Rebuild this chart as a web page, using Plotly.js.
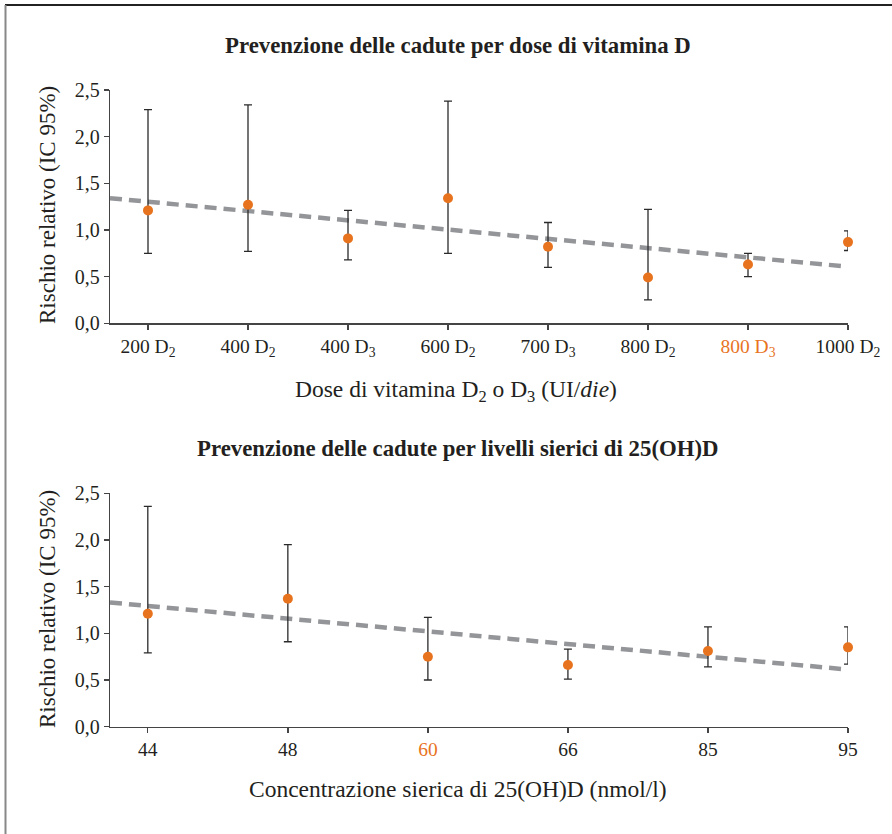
<!DOCTYPE html>
<html>
<head>
<meta charset="utf-8">
<script src="https://cdn.plot.ly/plotly-3.0.1.min.js"></script>
<style>html,body{margin:0;padding:0;background:#fff;}#chart{width:892px;height:834px;}</style>
</head>
<body>
<div id="chart"></div>
<script>
// ---- Top panel: dose ----
const doseLabels = ["200 D<sub>2</sub>", "400 D<sub>2</sub>", "400 D<sub>3</sub>", "600 D<sub>2</sub>",
  "700 D<sub>3</sub>", "800 D<sub>2</sub>", "<span style=\"color:#e8731e\">800 D<sub>3</sub></span>", "1000 D<sub>2</sub>"];
const doseRR    = [1.21, 1.27, 0.91, 1.34, 0.82, 0.49, 0.63, 0.87];
const doseUpper = [2.29, 2.34, 1.21, 2.38, 1.08, 1.22, 0.75, 0.99];
const doseLower = [0.75, 0.77, 0.68, 0.75, 0.60, 0.25, 0.50, 0.78];
const doseTrendX = [-0.38, 6.97];
const doseTrendY = [1.34, 0.61];

// ---- Bottom panel: serum 25(OH)D ----
const serumLabels = ["44", "48", "<span style=\"color:#e8731e\">60</span>", "66", "85", "95"];
const serumRR    = [1.21, 1.37, 0.75, 0.66, 0.81, 0.85];
const serumUpper = [2.36, 1.95, 1.17, 0.83, 1.07, 1.07];
const serumLower = [0.79, 0.91, 0.50, 0.51, 0.64, 0.67];
const serumTrendX = [-0.27, 4.98];
const serumTrendY = [1.33, 0.615];

const idx = a => a.map((_, i) => i);
const ORANGE = '#e8731e';
const DARK = '#231f20';
const FONT = 'Liberation Serif, Times New Roman, serif';

function pointsTrace(vals, up, lo, xa, ya) {
  return {
    x: idx(vals), y: vals, xaxis: xa, yaxis: ya, type: 'scatter', mode: 'markers',
    cliponaxis: false,
    marker: {color: ORANGE, size: 10},
    error_y: {type: 'data', symmetric: false,
      array: up.map((u, i) => +(u - vals[i]).toFixed(3)),
      arrayminus: lo.map((l, i) => +(vals[i] - l).toFixed(3)),
      color: '#2a2a2a', thickness: 1.3, width: 4},
    hoverinfo: 'skip', showlegend: false
  };
}
function trendTrace(tx, ty, xa, ya) {
  return {x: tx, y: ty, xaxis: xa, yaxis: ya, type: 'scatter', mode: 'lines',
    line: {color: '#939598', width: 4.5, dash: '12px,7px'}, hoverinfo: 'skip', showlegend: false};
}

const data = [
  trendTrace(doseTrendX, doseTrendY, 'x', 'y'),
  pointsTrace(doseRR, doseUpper, doseLower, 'x', 'y'),
  trendTrace(serumTrendX, serumTrendY, 'x2', 'y2'),
  pointsTrace(serumRR, serumUpper, serumLower, 'x2', 'y2')
];

const W = 892, H = 834;
const px = v => v / W, py = v => 1 - v / H;

const yCommon = {
  range: [0, 2.5], tickvals: [0, 0.5, 1, 1.5, 2, 2.5], tickformat: '.1f',
  showgrid: false, zeroline: false, showline: true, linecolor: '#444', linewidth: 1.3,
  ticks: 'outside', ticklen: 5, tickcolor: '#444', tickwidth: 1.3,
  tickfont: {family: FONT, size: 20, color: DARK}, fixedrange: true
};
const xCommon = {
  showgrid: false, zeroline: false, showline: true, linecolor: '#444', linewidth: 1.3,
  ticks: 'outside', ticklen: 5, tickcolor: '#444', tickwidth: 1.3,
  tickfont: {family: FONT, size: 19.5, color: DARK}, fixedrange: true
};

const ann = (text, x, y, size, extra) => Object.assign({text: text, xref: 'paper', yref: 'paper',
  x: px(x), y: py(y), xanchor: 'center', yanchor: 'middle', showarrow: false,
  font: {family: FONT, size: size, color: DARK}}, extra || {});

const layout = {
  width: W, height: H, margin: {l: 0, r: 0, t: 0, b: 0},
  paper_bgcolor: '#fff', plot_bgcolor: '#fff', separators: ',.',
  font: {family: FONT, color: DARK},
  showlegend: false,
  xaxis: Object.assign({}, xCommon, {domain: [px(110), px(848)], range: [-0.38, 7],
    tickvals: idx(doseLabels), ticktext: doseLabels, anchor: 'y'}),
  yaxis: Object.assign({}, yCommon, {domain: [py(323.3), py(90)], anchor: 'x'}),
  xaxis2: Object.assign({}, xCommon, {domain: [px(110), px(848)], range: [-0.27, 5],
    tickvals: idx(serumLabels), ticktext: serumLabels, anchor: 'y2'}),
  yaxis2: Object.assign({}, yCommon, {domain: [py(726.7), py(493.3)], anchor: 'x2'}),
  annotations: [
    ann('<b>Prevenzione delle cadute per dose di vitamina D</b>', 458, 45, 22.8),
    ann('<b>Prevenzione delle cadute per livelli sierici di 25(OH)D</b>', 458, 448, 22.8),
    ann('Rischio relativo (IC 95%)', 47, 205, 23, {textangle: -90}),
    ann('Rischio relativo (IC 95%)', 47, 609, 23, {textangle: -90}),
    ann('Dose di vitamina D<sub>2</sub> o D<sub>3</sub> (UI/<i>die</i>)', 456, 391, 23.5),
    ann('Concentrazione sierica di 25(OH)D (nmol/l)', 458, 789, 23.5)
  ],
  shapes: [
    {type: 'line', xref: 'paper', yref: 'paper', x0: px(5), x1: 1.01, y0: py(5), y1: py(5),
      line: {color: '#222', width: 2}},
    {type: 'line', xref: 'paper', yref: 'paper', x0: px(5.5), x1: px(5.5), y0: py(5), y1: -0.01,
      line: {color: '#888', width: 2}}
  ]
};

Plotly.newPlot('chart', data, layout, {displayModeBar: false, staticPlot: true});
</script>
</body>
</html>
